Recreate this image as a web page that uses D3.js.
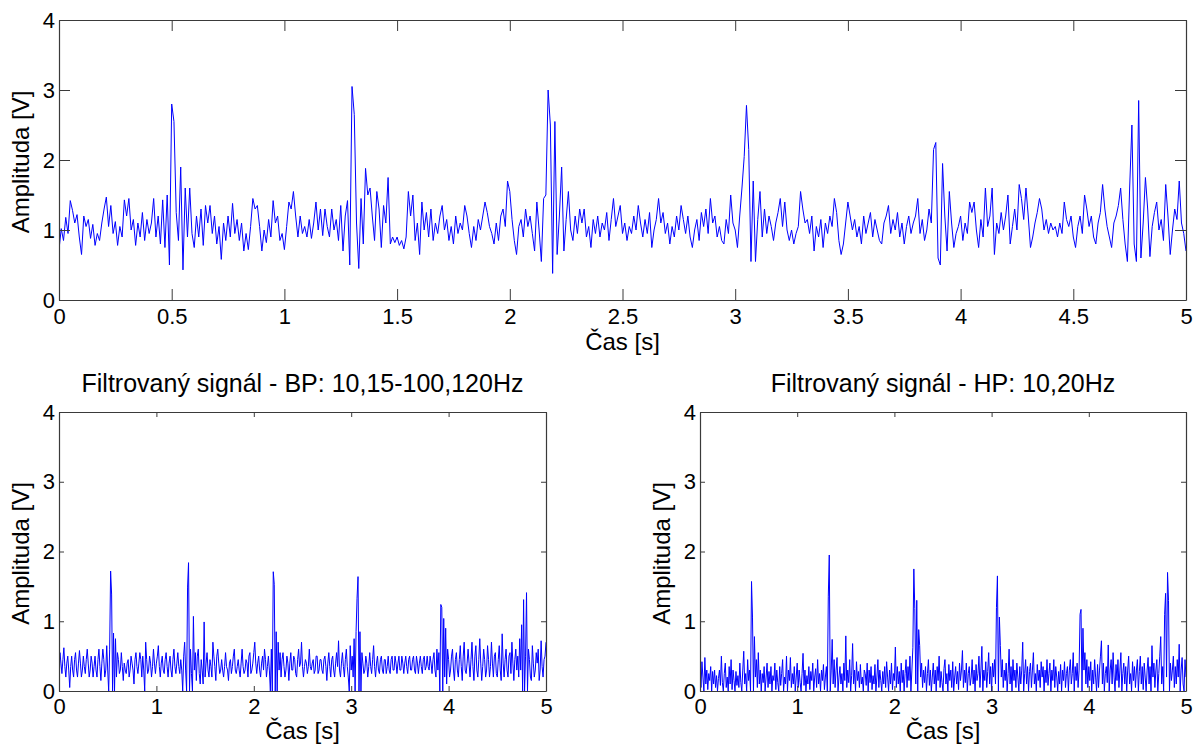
<!DOCTYPE html>
<html>
<head>
<meta charset="utf-8">
<script src="https://cdn.jsdelivr.net/npm/d3@7"></script>
<style>
  html, body { margin: 0; padding: 0; background: #fff; }
  svg { display: block; }
  text { font-family: "Liberation Sans", Arial, Helvetica, sans-serif; fill: #000; }
</style>
</head>
<body>
<svg id="chart" width="1195" height="745"></svg>
<script>
const sampleStep = 0.01; // seconds between samples
const xTicksTop = [0, 0.5, 1, 1.5, 2, 2.5, 3, 3.5, 4, 4.5, 5];
const xTicksBottom = [0, 1, 2, 3, 4, 5];
const yTicks = [0, 1, 2, 3, 4];
const xLabel = "Čas [s]";
const yLabel = "Amplituda [V]";
const titleBP = "Filtrovaný signál - BP: 10,15-100,120Hz";
const titleHP = "Filtrovaný signál - HP: 10,20Hz";

const rawSignal = [
0.72,1.02,0.85,1.18,0.95,1.42,1.28,1.1,1.22,0.9,
0.65,1.2,1.05,1.15,0.88,1.08,0.78,0.95,0.85,1.1,
1.3,1.47,1.05,1.35,0.95,1.12,0.78,1.05,0.9,1.43,
1.2,1.45,1.0,1.15,0.78,1.1,0.9,1.25,0.85,1.15,
0.95,1.1,1.45,0.9,1.2,0.8,1.43,0.75,1.5,0.5,
2.8,2.55,1.25,0.85,1.9,0.43,1.6,0.9,1.6,0.95,
0.75,1.2,0.9,1.3,0.78,1.35,1.1,1.35,0.95,1.2,
0.8,1.05,0.58,1.1,0.85,1.2,0.9,1.38,0.95,1.15,
0.85,1.1,0.7,0.95,0.72,1.05,1.45,1.3,1.35,1.05,
0.7,1.0,0.82,1.15,0.9,1.42,1.1,1.2,0.85,0.95,
0.72,1.05,1.4,1.3,1.55,1.2,0.9,1.2,0.95,1.05,
0.9,1.15,0.88,1.1,1.4,1.0,1.3,0.92,1.3,1.05,
0.9,1.3,1.0,1.15,0.85,1.35,0.7,1.2,1.42,0.5,
3.05,2.65,1.1,0.45,1.45,0.8,1.88,1.5,1.6,1.2,
0.85,1.55,1.3,0.75,1.35,1.1,1.75,0.8,0.9,0.82,
0.9,0.78,0.85,0.73,0.9,1.55,1.2,1.5,0.85,1.1,
0.65,1.4,1.0,1.25,0.9,1.3,0.85,1.1,0.95,1.2,
1.35,1.0,1.15,0.85,1.05,0.8,1.2,0.95,1.1,1.0,
1.35,1.2,0.95,0.75,1.05,0.85,1.15,1.0,1.2,1.4,
1.25,1.05,0.95,0.8,1.1,0.85,1.2,1.3,1.05,1.7,
1.55,1.15,0.85,0.65,1.05,1.15,0.9,1.3,1.05,1.2,
0.95,0.7,1.4,1.0,0.55,1.45,1.5,3.0,2.5,0.38,
2.55,0.65,1.2,1.9,0.7,1.15,1.55,1.0,0.85,1.2,
0.95,1.3,1.1,1.3,0.9,1.05,0.75,1.15,0.95,1.2,
0.9,1.1,1.0,1.25,0.85,1.15,1.45,1.05,1.2,1.35,
0.95,1.1,0.85,1.05,0.95,1.2,1.0,1.35,1.1,0.9,
1.15,0.95,1.25,0.75,1.0,1.15,1.45,1.1,1.25,0.95,
1.1,0.8,1.05,0.9,1.2,1.0,1.35,1.15,0.95,1.2,
0.9,0.75,1.0,1.15,0.85,1.25,1.05,1.3,0.95,1.45,
1.1,1.2,0.9,1.05,0.85,0.8,1.15,0.95,1.5,1.1,
1.0,0.75,1.2,1.6,2.05,2.78,2.15,0.55,1.7,0.55,
1.15,1.55,0.9,1.3,0.95,1.2,1.05,0.85,1.1,1.25,
1.45,1.05,1.4,1.0,0.85,1.0,0.8,0.95,1.05,1.55,
1.3,1.1,1.15,0.95,1.2,0.7,1.05,0.9,1.15,0.75,
1.1,0.95,1.2,1.05,1.45,1.25,0.85,0.65,0.8,1.1,
1.4,1.2,1.0,1.15,0.9,1.05,0.8,1.2,0.95,1.1,
1.25,0.9,1.15,1.0,0.85,0.8,1.1,1.2,1.35,0.95,
1.15,1.0,1.25,0.9,1.1,0.8,1.05,1.2,0.95,1.1,
1.2,1.45,0.95,1.15,0.85,1.0,1.3,1.1,2.15,2.25,
0.6,0.5,1.95,1.2,0.7,1.55,1.1,0.75,0.95,1.05,
1.2,0.85,1.1,0.95,1.4,1.25,1.4,1.0,0.75,1.15,
0.9,1.6,1.05,1.2,1.6,0.65,1.1,0.95,1.25,1.0,
1.2,1.5,0.8,1.05,1.3,1.0,1.65,1.45,1.15,1.6,
1.2,0.75,0.9,1.1,1.25,1.45,1.3,1.0,1.15,0.95,
1.1,1.0,1.05,0.9,1.1,0.95,1.4,1.15,1.05,1.2,
0.9,0.75,1.05,1.2,0.95,1.5,1.3,1.05,1.2,0.9,
0.8,1.1,1.25,1.65,1.3,1.05,0.9,0.75,1.1,1.2,
1.35,1.6,1.15,0.8,0.55,1.6,2.5,0.8,0.55,2.85,
0.6,1.1,1.75,1.3,0.62,1.05,1.25,1.4,1.0,1.15,
0.85,1.65,1.2,0.65,1.0,1.3,1.15,1.7,1.1,0.95,
0.7];

const bpSignal = [
0.0,0.55,0.4,0.25,0.45,0.62,0.35,0.2,0.4,0.5,
0.3,0.05,0.35,0.5,0.3,0.2,0.45,0.55,0.3,0.2,
0.4,0.58,0.4,0.2,0.3,0.5,0.35,0.25,0.45,0.6,
0.4,0.2,0.3,0.5,0.4,0.2,0.35,0.5,0.3,0.2,
0.45,0.6,0.35,0.15,0.4,0.6,0.45,0.2,0.3,0.65,
0.3,0.0,0.6,1.72,1.39,0.0,0.83,0.0,0.75,0.2,
0.55,0.45,0.25,0.3,0.55,0.35,0.15,0.4,0.3,0.25,
0.4,0.45,0.2,0.3,0.5,0.4,0.3,0.1,0.45,0.55,
0.35,0.25,0.4,0.55,0.45,0.2,0.5,0.3,0.0,0.7,
0.45,0.25,0.3,0.5,0.4,0.2,0.35,0.6,0.4,0.25,
0.4,0.5,0.65,0.35,0.2,0.4,0.5,0.3,0.25,0.45,
0.55,0.35,0.2,0.4,0.5,0.3,0.2,0.45,0.6,0.35,
0.25,0.4,0.55,0.35,0.25,0.45,0.3,0.0,0.5,0.7,
0.3,0.0,1.49,1.84,0.0,0.6,0.25,0.0,1.07,0.3,
0.55,0.15,0.5,0.6,0.25,0.1,0.45,0.3,0.1,0.99,
0.2,0.4,0.55,0.3,0.2,0.45,0.35,0.2,0.7,0.5,
0.35,0.15,0.5,0.6,0.4,0.25,0.3,0.45,0.3,0.2,
0.35,0.55,0.35,0.3,0.15,0.4,0.45,0.25,0.35,0.5,
0.6,0.3,0.25,0.35,0.45,0.3,0.2,0.4,0.6,0.35,
0.25,0.3,0.45,0.4,0.2,0.5,0.55,0.25,0.3,0.4,
0.55,0.7,0.4,0.25,0.4,0.5,0.3,0.2,0.4,0.5,
0.3,0.6,0.45,0.2,0.35,0.5,0.3,0.0,0.6,0.0,
1.71,1.53,0.0,0.85,0.0,0.7,0.3,0.55,0.2,0.45,
0.55,0.35,0.2,0.3,0.5,0.4,0.15,0.4,0.55,0.3,
0.3,0.5,0.45,0.25,0.2,0.45,0.6,0.35,0.4,0.7,
0.35,0.2,0.35,0.45,0.4,0.25,0.35,0.6,0.35,0.3,
0.4,0.45,0.25,0.3,0.5,0.5,0.25,0.3,0.45,0.45,
0.3,0.25,0.45,0.5,0.35,0.15,0.4,0.55,0.35,0.2,
0.45,0.5,0.3,0.2,0.4,0.55,0.35,0.72,0.3,0.2,
0.4,0.55,0.35,0.2,0.45,0.6,0.35,0.2,0.0,0.65,
0.3,0.5,0.2,0.75,0.0,0.85,1.33,1.64,0.0,0.85,
0.0,0.55,0.4,0.25,0.3,0.5,0.4,0.2,0.35,0.55,
0.35,0.25,0.45,0.65,0.35,0.2,0.4,0.5,0.3,0.25,
0.45,0.5,0.3,0.25,0.45,0.45,0.25,0.35,0.5,0.3,
0.25,0.45,0.5,0.3,0.3,0.5,0.4,0.25,0.4,0.5,
0.3,0.3,0.5,0.4,0.25,0.4,0.5,0.35,0.25,0.45,
0.5,0.3,0.3,0.45,0.5,0.3,0.25,0.5,0.4,0.25,
0.4,0.5,0.35,0.25,0.45,0.5,0.3,0.35,0.5,0.35,
0.3,0.5,0.4,0.25,0.45,0.55,0.3,0.2,0.6,0.3,
0.55,0.0,1.24,1.2,0.0,1.04,0.2,0.9,0.1,0.6,
0.45,0.2,0.3,0.5,0.6,0.3,0.15,0.45,0.55,0.3,
0.2,0.45,0.65,0.35,0.15,0.5,0.7,0.3,0.25,0.4,
0.6,0.4,0.2,0.45,0.7,0.35,0.15,0.5,0.65,0.3,
0.2,0.45,0.75,0.4,0.15,0.35,0.6,0.45,0.2,0.3,
0.65,0.45,0.2,0.35,0.7,0.4,0.2,0.5,0.55,0.25,
0.2,0.45,0.65,0.3,0.15,0.82,0.4,0.2,0.45,0.6,
0.3,0.2,0.5,0.55,0.25,0.7,0.4,0.15,0.45,0.6,
0.3,0.5,0.2,0.75,0.3,0.95,0.0,1.31,0.0,0.5,
1.41,0.0,0.6,0.45,0.2,0.15,0.65,0.4,0.2,0.3,
0.55,0.4,0.6,0.15,0.3,0.72,0.35,0.2,0.45,0.5,
0.7];

const hpSignal = [
0.38,0.05,0.42,0.2,0.0,0.48,0.1,0.3,0.02,0.25,
0.15,0.35,0.0,0.28,0.1,0.3,0.05,0.22,0.0,0.18,
0.3,0.08,0.5,0.12,0.0,0.25,0.4,0.05,0.2,0.0,
0.35,0.1,0.45,0.02,0.3,0.15,0.0,0.28,0.08,0.22,
0.05,0.4,0.12,0.0,0.3,0.57,0.1,0.25,0.0,0.45,
0.15,0.3,0.0,1.57,1.06,0.0,0.78,0.2,0.45,0.05,
0.55,0.1,0.3,0.0,0.25,0.12,0.35,0.0,0.2,0.4,
0.05,0.28,0.1,0.35,0.0,0.22,0.15,0.4,0.02,0.3,
0.12,0.0,0.35,0.08,0.25,0.45,0.0,0.2,0.1,0.5,
0.0,0.3,0.15,0.48,0.05,0.25,0.1,0.35,0.0,0.2,
0.4,0.05,0.3,0.12,0.0,0.25,0.54,0.08,0.3,0.0,
0.22,0.1,0.35,0.02,0.28,0.15,0.4,0.0,0.2,0.32,
0.05,0.45,0.1,0.25,0.0,0.3,0.15,0.38,0.02,0.2,
0.35,0.0,1.36,1.95,0.0,0.3,0.74,0.1,0.45,0.05,
0.3,0.48,0.0,0.2,0.35,0.1,0.25,0.0,0.4,0.15,
0.79,0.05,0.3,0.12,0.45,0.0,0.22,0.68,0.1,0.3,
0.0,0.42,0.15,0.28,0.05,0.38,0.1,0.2,0.0,0.3,
0.25,0.08,0.4,0.0,0.3,0.12,0.35,0.02,0.22,0.1,
0.38,0.0,0.2,0.45,0.05,0.3,0.15,0.0,0.28,0.1,
0.35,0.05,0.42,0.2,0.0,0.3,0.1,0.4,0.02,0.25,
0.15,0.63,0.05,0.35,0.1,0.28,0.0,0.4,0.12,0.3,
0.0,0.25,0.45,0.05,0.35,0.15,0.5,0.0,0.3,0.62,
1.75,1.18,0.1,1.3,0.0,0.88,0.65,0.2,0.4,0.05,
0.3,0.12,0.35,0.0,0.25,0.45,0.08,0.3,0.0,0.2,
0.4,0.1,0.3,0.0,0.35,0.15,0.5,0.05,0.28,0.12,
0.0,0.32,0.45,0.1,0.25,0.0,0.38,0.15,0.3,0.05,
0.42,0.0,0.2,0.35,0.1,0.28,0.02,0.4,0.15,0.3,
0.58,0.05,0.3,0.12,0.4,0.0,0.25,0.35,0.08,0.2,
0.45,0.1,0.3,0.0,0.38,0.15,0.25,0.5,0.05,0.3,
0.64,0.0,0.3,0.15,0.42,0.05,0.28,0.55,0.1,0.35,
0.0,0.4,0.2,0.45,0.1,1.2,1.65,0.0,1.06,0.65,
0.2,0.45,0.05,0.3,0.15,0.4,0.0,0.25,0.6,0.1,
0.35,0.0,0.45,0.15,0.3,0.05,0.4,0.2,0.0,0.35,
0.1,0.3,0.7,0.0,0.25,0.45,0.1,0.35,0.0,0.28,
0.4,0.05,0.3,0.55,0.1,0.25,0.0,0.38,0.15,0.3,
0.05,0.42,0.2,0.35,0.0,0.3,0.12,0.45,0.08,0.25,
0.4,0.0,0.3,0.15,0.45,0.05,0.35,0.2,0.0,0.28,
0.1,0.38,0.0,0.3,0.15,0.42,0.05,0.25,0.35,0.0,
0.3,0.45,0.1,0.25,0.55,0.0,0.35,0.15,0.4,0.05,
0.3,1.1,1.17,0.0,0.9,0.3,0.55,0.1,0.45,0.05,
0.35,0.15,0.42,0.0,0.3,0.1,0.45,0.2,0.0,0.38,
0.05,0.3,0.5,0.72,0.1,0.4,0.0,0.25,0.35,0.12,
0.66,0.0,0.3,0.45,0.1,0.55,0.2,0.0,0.38,0.15,
0.45,0.05,0.3,0.55,0.0,0.25,0.4,0.1,0.35,0.0,
0.3,0.5,0.1,0.25,0.0,0.42,0.15,0.35,0.05,0.3,
0.45,0.0,0.28,0.5,0.1,0.35,0.02,0.4,0.2,0.0,
0.3,0.48,0.1,0.35,0.0,0.65,0.2,0.4,0.05,0.3,
0.45,0.0,0.25,0.5,0.78,0.1,0.35,0.0,1.1,1.4,
0.2,1.7,1.3,0.0,0.4,0.15,0.3,0.5,0.05,0.35,
0.1,0.45,0.2,0.67,0.0,0.3,0.48,0.1,0.0,0.45,
0.2];

// ---------------- DRAWING ----------------
const svg = d3.select("#chart");
const axisColor = "#3a3a3a";
const lineColor = "#0000ff";
const tickFont = 22;
const labelFont = 24;
const titleFont = 25;

function drawPanel(cfg) {
  const { x0, x1, y0, y1, values, xTicks, tickLen, title, id, xLabelY, xPad } = cfg;
  const x = d3.scaleLinear().domain([0, 5]).range([x0, x1]);
  const y = d3.scaleLinear().domain([0, 4]).range([y1, y0]);
  const g = svg.append("g");

  g.append("clipPath").attr("id", "clip" + id)
    .append("rect").attr("x", x0).attr("y", y0).attr("width", x1 - x0).attr("height", y1 - y0);

  const line = d3.line().x((d, i) => x(i * sampleStep)).y(d => y(d));
  g.append("path").datum(values)
    .attr("clip-path", `url(#clip${id})`)
    .attr("d", line)
    .attr("fill", "none")
    .attr("stroke", lineColor)
    .attr("stroke-width", 1)
    .attr("stroke-linejoin", "miter");

  // axes with inward ticks on all four sides
  const fmt = d => String(d);
  const bottom = g.append("g").attr("transform", `translate(0,${y1})`)
    .call(d3.axisBottom(x).tickValues(xTicks).tickFormat(fmt).tickSizeInner(-tickLen).tickSizeOuter(0).tickPadding(xPad));
  const top = g.append("g").attr("transform", `translate(0,${y0})`)
    .call(d3.axisTop(x).tickValues(xTicks).tickFormat("").tickSizeInner(-tickLen).tickSizeOuter(0));
  const left = g.append("g").attr("transform", `translate(${x0},0)`)
    .call(d3.axisLeft(y).tickValues(yTicks).tickFormat(fmt).tickSizeInner(-tickLen).tickSizeOuter(0).tickPadding(4));
  const right = g.append("g").attr("transform", `translate(${x1},0)`)
    .call(d3.axisRight(y).tickValues(yTicks).tickFormat("").tickSizeInner(-tickLen).tickSizeOuter(0));
  [bottom, top, left, right].forEach(a => {
    a.select(".domain").attr("stroke", axisColor).attr("stroke-width", 1.2);
    a.selectAll(".tick line").attr("stroke", axisColor).attr("stroke-width", 1);
    a.selectAll("text").attr("font-size", tickFont).attr("font-family", '"Liberation Sans", Arial, sans-serif').attr("fill", "#000");
  });

  // axis labels
  g.append("text")
    .attr("x", (x0 + x1) / 2).attr("y", xLabelY)
    .attr("text-anchor", "middle").attr("font-size", labelFont)
    .text(xLabel);
  g.append("text")
    .attr("transform", `translate(${x0 - 30},${(y0 + y1) / 2 + 2}) rotate(-90)`)
    .attr("text-anchor", "middle").attr("font-size", labelFont)
    .text(yLabel);
  if (title) {
    g.append("text")
      .attr("x", (x0 + x1) / 2).attr("y", y0 - 20)
      .attr("text-anchor", "middle").attr("font-size", titleFont)
      .text(title);
  }
}

drawPanel({ id: "top", x0: 59, x1: 1186, y0: 20, y1: 300, values: rawSignal, xTicks: xTicksTop, tickLen: 11, title: null, xLabelY: 350, xPad: 8 });
drawPanel({ id: "bp", x0: 59, x1: 546, y0: 412, y1: 691, values: bpSignal, xTicks: xTicksBottom, tickLen: 5, title: titleBP, xLabelY: 739, xPad: 7 });
drawPanel({ id: "hp", x0: 700, x1: 1186, y0: 412, y1: 691, values: hpSignal, xTicks: xTicksBottom, tickLen: 5, title: titleHP, xLabelY: 739, xPad: 7 });
</script>
</body>
</html>
